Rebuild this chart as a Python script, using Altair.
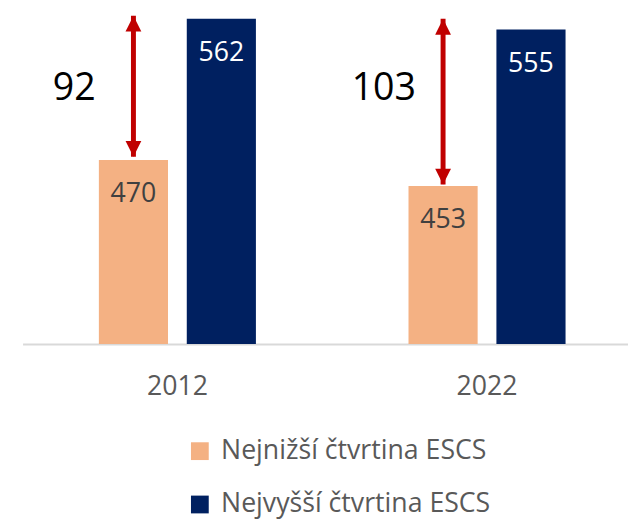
import altair as alt
import pandas as pd

# ---- data ----
years = ["2012", "2022"]
series = ["Nejnižší čtvrtina ESCS", "Nejvyšší čtvrtina ESCS"]
lowest_quartile = [470, 453]
highest_quartile = [562, 555]
gap_values = [92, 103]
arrow_top = [564, 562]
arrow_bottom = [472, 454]
colors = ["#F4B183", "#002060"]

FONT = "Open Sans"
Y_MIN, Y_MAX = 350, 567
LABEL_LEVEL = 516
RED = "#C00000"

bars = pd.DataFrame({
    "year": years * 2,
    "series": [series[0]] * 2 + [series[1]] * 2,
    "value": lowest_quartile + highest_quartile,
})
gaps = pd.DataFrame({
    "year": years,
    "series": [series[0]] * 2,
    "top": arrow_top,
    "bottom": arrow_bottom,
    "gap": [str(g) for g in gap_values],
})

x_enc = alt.X(
    "year:N", sort=years,
    scale=alt.Scale(paddingInner=0.2, paddingOuter=0.07765, align=0.644),
    axis=alt.Axis(title=None, labelAngle=0, ticks=False, tickSize=0,
                  domainColor="#D9D9D9", domainWidth=2, grid=False,
                  labelFont=FONT, labelFontSize=27, labelColor="#595959",
                  labelPadding=30),
)
xoff = alt.XOffset("series:N", sort=series,
                   scale=alt.Scale(domain=series, paddingInner=0.2135, paddingOuter=0.5157))
y_scale = alt.Scale(domain=[Y_MIN, Y_MAX], zero=False, nice=False)

bar_layer = alt.Chart(bars).mark_bar().encode(
    x=x_enc, xOffset=xoff,
    y=alt.Y("value:Q", scale=y_scale, axis=None),
    y2=alt.datum(Y_MIN),
    color=alt.Color(
        "series:N", sort=series,
        scale=alt.Scale(domain=series, range=colors),
        legend=alt.Legend(title=None, orient="none", legendX=166, legendY=432,
                          direction="vertical", symbolType="square", symbolSize=324,
                          symbolStrokeWidth=0, labelFont=FONT, labelFontSize=27,
                          labelColor="#595959", labelOffset=8, rowPadding=26,
                          padding=0, labelLimit=500),
    ),
)

value_labels = alt.Chart(bars).mark_text(
    font=FONT, fontSize=27, baseline="middle", align="center", dy=35
).encode(
    x=x_enc, xOffset=xoff,
    y=alt.Y("value:Q", scale=y_scale, axis=None),
    text=alt.Text("value:Q"),
    color=alt.when(alt.datum.series == series[0]).then(alt.value("#404040")).otherwise(alt.value("#FFFFFF")),
)

arrow_shaft = alt.Chart(gaps).mark_rule(color=RED, strokeWidth=5).encode(
    x=x_enc, xOffset=xoff,
    y=alt.Y("top:Q", scale=y_scale, axis=None),
    y2="bottom:Q",
)
head_up = alt.Chart(gaps).mark_point(
    shape="M0,0L1,2L-1,2Z", size=256, filled=True, color=RED, opacity=1, strokeWidth=0
).encode(x=x_enc, xOffset=xoff, y=alt.Y("top:Q", scale=y_scale, axis=None))
head_down = alt.Chart(gaps).mark_point(
    shape="M0,0L1,-2L-1,-2Z", size=256, filled=True, color=RED, opacity=1, strokeWidth=0
).encode(x=x_enc, xOffset=xoff, y=alt.Y("bottom:Q", scale=y_scale, axis=None))

gap_labels = alt.Chart(gaps).mark_text(
    font=FONT, fontSize=38, color="#000000", baseline="middle", align="center", dx=-60
).encode(
    x=x_enc, xOffset=xoff,
    y=alt.datum(LABEL_LEVEL),
    text="gap:N",
)

chart = alt.layer(bar_layer, value_labels, arrow_shaft, head_up, head_down, gap_labels).properties(
    width=613, height=337,
    autosize=alt.AutoSizeParams(type="none"),
    padding={"left": 14.75, "top": 0, "right": 0, "bottom": 175},
).configure_view(stroke=None)

chart.save("out.html", embed_options={"renderer": "svg", "actions": False})
